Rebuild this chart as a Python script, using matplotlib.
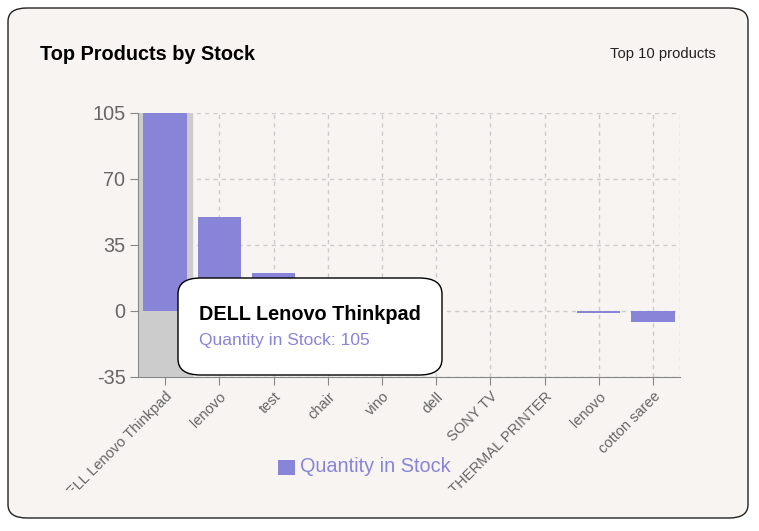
import matplotlib
matplotlib.use("Agg")
import matplotlib.pyplot as plt
from matplotlib.patches import FancyBboxPatch, Rectangle

plt.rcParams['font.family'] = ['Liberation Sans', 'DejaVu Sans']

# datos del grafico
products = ['DELL Lenovo Thinkpad', 'lenovo', 'test', 'chair', 'vino', 'dell',
            'SONY TV', 'THERMAL PRINTER', 'lenovo', 'cotton saree']
stock = [105, 50, 20, 10, 5, 0, 0, 0, -1, -6]
y_ticks = [-35, 0, 35, 70, 105]

purple = '#8884d8'
bg = '#f7f4f1'
gray_txt = '#666666'

fig = plt.figure(figsize=(7.59, 5.31), dpi=100)
fig.patch.set_facecolor('white')

# tarjeta de fondo
card = FancyBboxPatch((8 / 759, 1 - 518 / 531), 740 / 759, 510 / 531,
                      boxstyle='round,pad=0,rounding_size=0.025',
                      transform=fig.transFigure, facecolor=bg,
                      edgecolor='#222222', linewidth=1.0, zorder=-5)
fig.patches.append(card)

fig.text(40 / 759, 1 - 54 / 531, 'Top Products by Stock', fontsize=14.3,
         fontweight='bold', va='center', ha='left', color='black')
fig.text(716 / 759, 1 - 54 / 531, 'Top 10 products', fontsize=10.6,
         va='center', ha='right', color='#222222')

ax = fig.add_axes([138 / 759, 1 - 377 / 531, 542 / 759, 264 / 531])
ax.set_facecolor(bg)
x = list(range(len(products)))

# cursor del tooltip
ax.axvspan(-0.5, 0.5, color='#cccccc', zorder=1)
ax.bar(x, stock, width=0.8, color=purple, zorder=3)

ax.set_xlim(-0.5, len(products) - 0.5)
ax.set_ylim(-35, 105)
ax.set_yticks(y_ticks)
ax.set_yticklabels([str(v) for v in y_ticks], fontsize=14.3, color=gray_txt)
ax.set_xticks(x)
labels = ax.set_xticklabels(products, rotation=45, ha='right',
                            rotation_mode='anchor', fontsize=10.5, color=gray_txt)

ax.grid(True, linestyle=(0, (3, 3)), color='#cccccc', linewidth=1, zorder=0)
ax.axvline(len(products) - 0.5, linestyle=(0, (3, 3)), color='#cccccc', linewidth=1, zorder=0)
for s in ['top', 'right']:
    ax.spines[s].set_visible(False)
for s in ['left', 'bottom']:
    ax.spines[s].set_color('#888888')
ax.tick_params(axis='both', color='#888888', length=6, pad=3)

# recorte de etiquetas como en el svg
clip = Rectangle((60 / 759, 1 - 490 / 531), 650 / 759, 0.5,
                 transform=fig.transFigure, visible=False)
fig.patches.append(clip)
for lab in labels:
    lab.set_clip_path(clip)
    lab.set_clip_on(True)

# leyenda
fig.patches.append(Rectangle((278 / 759, 1 - 475 / 531), 17 / 759, 15 / 531,
                             transform=fig.transFigure, facecolor=purple))
fig.text(300 / 759, 1 - 467 / 531, 'Quantity in Stock', fontsize=14.3,
         color=purple, va='center', ha='left')

# tooltip
tip = FancyBboxPatch((178 / 759, 1 - 375 / 531), 264 / 759, 97 / 531,
                     boxstyle='round,pad=0,rounding_size=0.03',
                     transform=fig.transFigure, facecolor='white',
                     edgecolor='black', linewidth=1.0, zorder=10)
fig.patches.append(tip)
fig.text(199 / 759, 1 - 314 / 531, 'DELL Lenovo Thinkpad', fontsize=14.3,
         fontweight='bold', va='center', ha='left', color='black', zorder=11)
fig.text(199 / 759, 1 - 340 / 531, 'Quantity in Stock: 105', fontsize=12.5,
         va='center', ha='left', color=purple, zorder=11)

plt.savefig('out.png', dpi=100, facecolor=fig.get_facecolor())
